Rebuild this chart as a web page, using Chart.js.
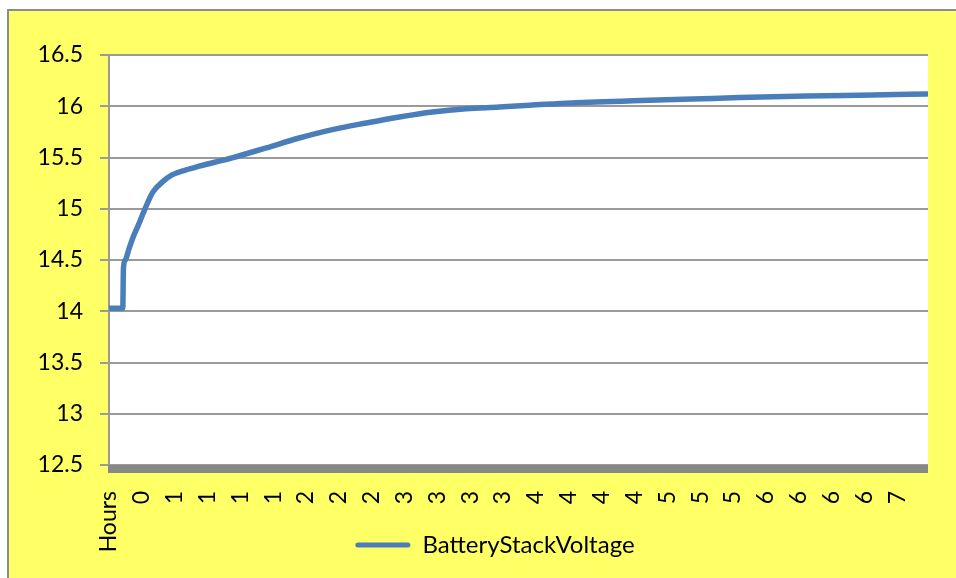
<!DOCTYPE html>
<html lang="en">
<head>
  <meta charset="UTF-8" />
  <title>BatteryStackVoltage</title>
  <script src="https://cdn.jsdelivr.net/npm/chart.js"></script>
  <style>
    body {
      margin: 0;
      background-color: #ffffff;
      font-family: Lato, sans-serif;
    }
    .frame {
      position: absolute;
      left: 7px;
      top: 9px;
      width: 960px;
      height: 580px;
      border: 2px solid #8c8c8c;
      background-color: #ffff66; /* jaune Excel */
    }
    .chart-box {
      position: absolute;
      left: 0;
      top: 0;
      width: 956px;
      height: 578px;
    }
  </style>
</head>
<body>
  <div class="frame"></div>
  <div class="chart-box">
    <canvas id="voltageChart"></canvas>
  </div>

<script>
  // x tick labels (hours, as shown on the axis)
  const tickLabels = ['Hours', '0', '1', '1', '1', '1', '2', '2', '2', '3', '3', '3', '3',
                      '4', '4', '4', '4', '5', '5', '5', '6', '6', '6', '6', '7'];

  // samples: position along the axis (in tick-label steps) and voltage
  const samplePos = [0, 0.42, 0.44, 0.50, 0.60, 0.73, 0.88, 1.07, 1.33, 1.62, 1.92, 2.35, 2.74,
                     3.75, 4.79, 5.79, 6.80, 7.84, 8.84, 9.85, 10.88, 11.89, 12.80, 13.93,
                     15.95, 17.77, 19.21, 21.25, 23.26, 24.91];
  const voltage = [14.03, 14.03, 14.42, 14.50, 14.60, 14.72, 14.83, 14.98, 15.16, 15.26, 15.33,
                   15.38, 15.415, 15.497, 15.594, 15.69, 15.772, 15.837, 15.895, 15.944, 15.976,
                   15.992, 16.01, 16.03, 16.053, 16.07, 16.085, 16.10, 16.11, 16.12];

  const seriesName = 'BatteryStackVoltage';
  const lineColor = '#4a7ebb';
  const gridColor = '#9a9a9a';

  // fond blanc de la zone de tracé + bande grise de l'axe X
  const plotArea = {
    id: 'plotArea',
    beforeDraw(chart) {
      const { ctx, chartArea: a } = chart;
      ctx.save();
      ctx.fillStyle = '#ffffff';
      ctx.fillRect(a.left, a.top, a.right - a.left, a.bottom - a.top);
      ctx.restore();
    },
    afterDatasetsDraw(chart) {
      const { ctx, chartArea: a } = chart;
      ctx.save();
      ctx.fillStyle = '#878787';
      ctx.fillRect(a.left - 1, a.bottom, a.right - a.left + 1, 8);
      ctx.restore();
    }
  };

  // pas de découpage des étiquettes (elles débordent de la boîte de l'axe)
  function noLabelClip(scale) {
    scale._computeLabelArea = () => undefined;
  }

  const points = samplePos.map((x, i) => ({ x: x, y: voltage[i] }));

  new Chart(document.getElementById('voltageChart'), {
    type: 'line',
    data: {
      datasets: [{
        label: seriesName,
        data: points,
        borderColor: lineColor,
        backgroundColor: lineColor,
        borderWidth: 5.5,
        pointRadius: 0,
        cubicInterpolationMode: 'monotone',
        borderCapStyle: 'round',
        borderJoinStyle: 'round'
      }]
    },
    options: {
      responsive: true,
      maintainAspectRatio: false,
      animation: false,
      layout: { padding: { left: 62, right: 28, top: 55, bottom: 11 } },
      scales: {
        x: {
          type: 'linear',
          min: 0,
          max: 24.94,
          afterBuildTicks(scale) {
            scale.ticks = tickLabels.map((_, i) => ({ value: i }));
          },
          afterFit(scale) {
            scale.height = 58;
            noLabelClip(scale);
          },
          grid: { display: false },
          border: { display: false },
          ticks: {
            autoSkip: false,
            minRotation: 90,
            maxRotation: 90,
            padding: 18,
            color: '#000000',
            font: { family: 'Lato', size: 23 },
            callback: (value) => tickLabels[value]
          }
        },
        y: {
          min: 12.5,
          max: 16.5,
          afterFit(scale) {
            scale.width = 47;
            noLabelClip(scale);
          },
          grid: { color: gridColor, lineWidth: 2, tickLength: 9 },
          border: { display: true, color: gridColor, width: 2 },
          ticks: {
            stepSize: 0.5,
            padding: 17,
            color: '#000000',
            font: { family: 'Lato', size: 23 },
            callback: (value) => String(value)
          }
        }
      },
      plugins: {
        legend: {
          position: 'bottom',
          labels: {
            color: '#000000',
            font: { family: 'Lato', size: 24 },
            boxWidth: 55,
            boxHeight: 5,
            useBorderRadius: true,
            borderRadius: 2.5,
            generateLabels(chart) {
              const items = Chart.defaults.plugins.legend.labels.generateLabels(chart);
              items.forEach(it => { it.lineWidth = 0; it.borderRadius = 2.5; });
              return items;
            }
          }
        },
        tooltip: { enabled: false }
      }
    },
    plugins: [plotArea]
  });
</script>

</body>
</html>
